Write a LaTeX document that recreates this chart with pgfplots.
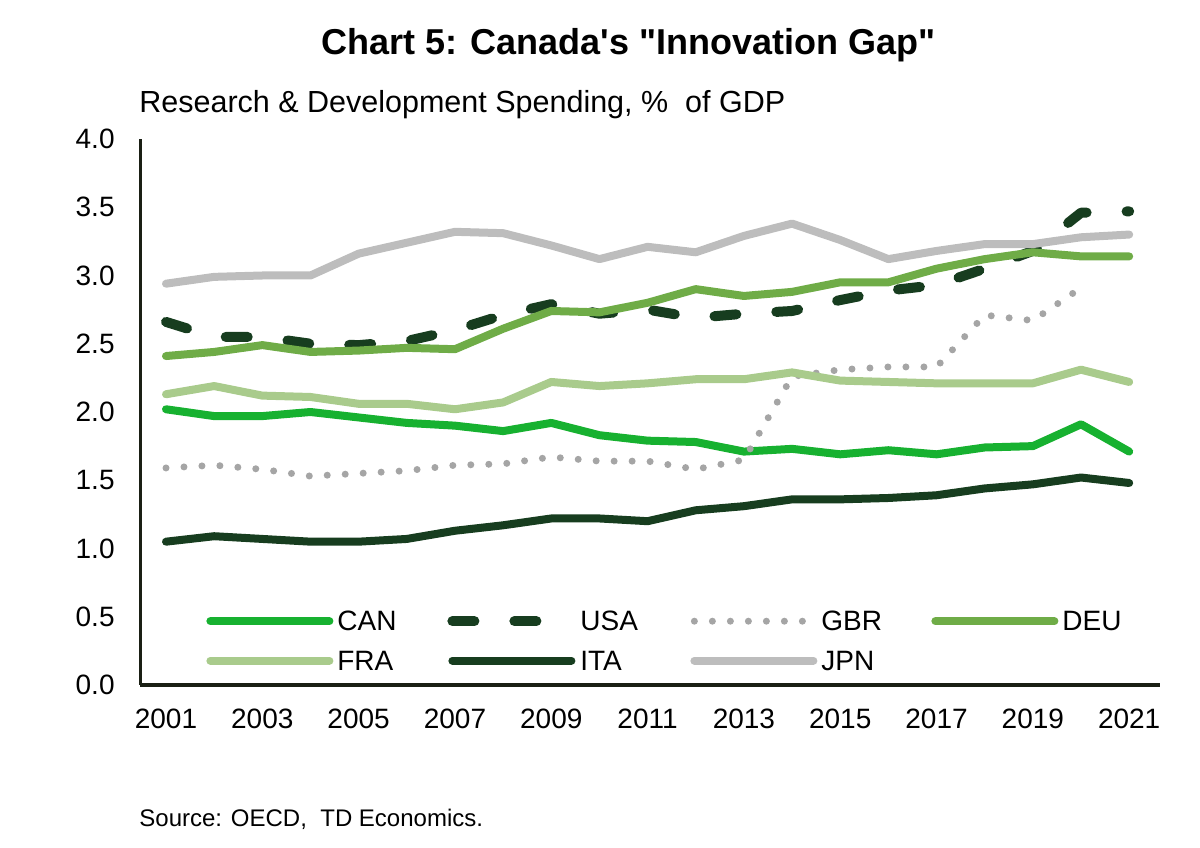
\documentclass[border=0pt]{standalone}
\usepackage{fontspec}
\setmainfont{Liberation Sans}
\usepackage{pgfplots}
\pgfplotsset{compat=1.18}
\usepackage{pgfplotstable}

\definecolor{cCAN}{HTML}{17B130}
\definecolor{cUSA}{HTML}{173D1F}
\definecolor{cGBR}{HTML}{A5A5A5}
\definecolor{cDEU}{HTML}{6FAC47}
\definecolor{cFRA}{HTML}{A9CB8C}
\definecolor{cITA}{HTML}{173D1F}
\definecolor{cJPN}{HTML}{BDBDBD}
\definecolor{axisc}{HTML}{1A1F14}

\pgfplotstableread{
year CAN  USA  GBR  DEU  FRA  ITA  JPN
2001 2.02 2.66 1.59 2.41 2.13 1.05 2.94
2002 1.97 2.55 1.61 2.44 2.19 1.09 2.99
2003 1.97 2.55 1.58 2.49 2.12 1.07 3.00
2004 2.00 2.50 1.53 2.44 2.11 1.05 3.00
2005 1.96 2.49 1.55 2.45 2.06 1.05 3.16
2006 1.92 2.52 1.57 2.47 2.06 1.07 3.24
2007 1.90 2.60 1.61 2.46 2.02 1.13 3.32
2008 1.86 2.71 1.62 2.61 2.07 1.17 3.31
2009 1.92 2.79 1.67 2.74 2.22 1.22 3.22
2010 1.83 2.72 1.64 2.73 2.19 1.22 3.12
2011 1.79 2.75 1.64 2.80 2.21 1.20 3.21
2012 1.78 2.69 1.58 2.90 2.24 1.28 3.17
2013 1.71 2.72 1.65 2.85 2.24 1.31 3.29
2014 1.73 2.74 2.26 2.88 2.29 1.36 3.38
2015 1.69 2.82 2.31 2.95 2.23 1.36 3.26
2016 1.72 2.89 2.33 2.95 2.22 1.37 3.12
2017 1.69 2.93 2.33 3.05 2.21 1.39 3.18
2018 1.74 3.05 2.71 3.12 2.21 1.44 3.23
2019 1.75 3.18 2.67 3.17 2.21 1.47 3.23
2020 1.91 3.46 2.91 3.14 2.31 1.52 3.28
2021 1.71 3.47 nan  3.14 2.22 1.48 3.30
}\rd

\begin{document}
\begin{tikzpicture}
\path[use as bounding box] (0,0) rectangle (600pt,423.5pt);
\node[anchor=base, inner sep=0pt, font=\fontsize{18}{21}\selectfont\bfseries] at (314.25pt,396pt) {Chart 5: Canada\textquotesingle s \textquotedbl Innovation Gap\textquotedbl};
\node[anchor=base west, inner sep=0pt, font=\fontsize{15.25}{18}\selectfont] at (69.5pt,367pt) {Research \& Development Spending, \%\ \ of GDP};
\node[anchor=base west, inner sep=0pt, font=\fontsize{12}{14}\selectfont] at (69.5pt,10.5pt) {Source: OECD,\ \ TD Economics.};
\begin{axis}[
  at={(70pt,81pt)}, anchor=south west,
  scale only axis, width=510pt, height=273pt,
  xmin=2000.46, xmax=2021.64, ymin=0, ymax=4,
  axis x line=bottom, axis y line=left,
  axis line style={-, draw=axisc},
  x axis line style={line width=2pt},
  y axis line style={line width=1.5pt},
  xtick={2001,2003,2005,2007,2009,2011,2013,2015,2017,2019,2021},
  xticklabels={2001,2003,2005,2007,2009,2011,2013,2015,2017,2019,2021},
  ytick={0,0.5,1,1.5,2,2.5,3,3.5,4},
  yticklabels={0.0,0.5,1.0,1.5,2.0,2.5,3.0,3.5,4.0},
  major tick length=0pt,
  tick style={draw=none},
  tick label style={font=\fontsize{14}{16}\selectfont, inner sep=0pt},
  xticklabel style={anchor=north, yshift=-12pt},
  yticklabel style={anchor=east, xshift=-12.5pt},
  legend columns=4,
  legend image code/.code={\draw[#1] (0pt,0pt) -- (59.5pt,0pt);},
  legend style={draw=none, fill=none, inner sep=0pt, at={(0.0647,0.1355)}, anchor=north west,
    row sep=10pt, column sep=0pt, cells={anchor=center},
    nodes={inner sep=0pt, text depth=0pt}, font=\fontsize{14}{16}\selectfont},
]
\addplot[cCAN, line width=4pt, line join=round, line cap=round, no markers] table[x=year,y=CAN]{\rd};
\addlegendentry{\makebox[57pt][l]{\hspace{2pt}CAN}}
\addplot[cUSA, line width=5pt, dash pattern=on 11pt off 20pt, line join=round, line cap=round, no markers] table[x=year,y=USA]{\rd};
\addlegendentry{\makebox[57pt][l]{\hspace{2pt}USA}}
\addplot[cGBR, line width=3.5pt, dash pattern=on 0pt off 9pt, line join=round, line cap=round, no markers] table[x=year,y=GBR]{\rd};
\addlegendentry{\makebox[57pt][l]{\hspace{2pt}GBR}}
\addplot[cDEU, line width=4pt, line join=round, line cap=round, no markers] table[x=year,y=DEU]{\rd};
\addlegendentry{\makebox[57pt][l]{\hspace{2pt}DEU}}
\addplot[cFRA, line width=4pt, line join=round, line cap=round, no markers] table[x=year,y=FRA]{\rd};
\addlegendentry{\makebox[57pt][l]{\hspace{2pt}FRA}}
\addplot[cITA, line width=4pt, line join=round, line cap=round, no markers] table[x=year,y=ITA]{\rd};
\addlegendentry{\makebox[57pt][l]{\hspace{2pt}ITA}}
\addplot[cJPN, line width=4pt, line join=round, line cap=round, no markers] table[x=year,y=JPN]{\rd};
\addlegendentry{\makebox[57pt][l]{\hspace{2pt}JPN}}
\end{axis}
\end{tikzpicture}
\end{document}
